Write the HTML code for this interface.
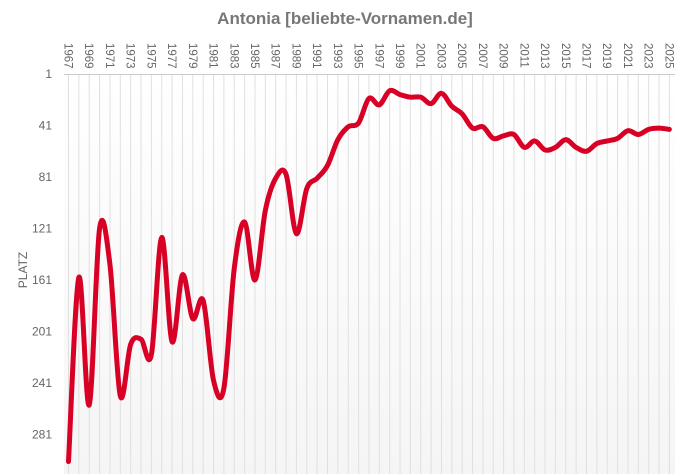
<!DOCTYPE html>
<html><head><meta charset="utf-8"><style>
html,body{margin:0;padding:0;background:#fff;}
svg{display:block;font-family:"Liberation Sans",sans-serif;}
</style></head><body>
<svg id="c" width="689" height="474" xmlns="http://www.w3.org/2000/svg">
<defs><linearGradient id="g" x1="0" y1="0" x2="0" y2="1"><stop offset="0" stop-color="#fff"/><stop offset="1" stop-color="#f5f5f5"/></linearGradient></defs>
<rect x="64" y="75" width="611" height="399" fill="url(#g)"/>
<text x="345" y="24" text-anchor="middle" font-size="17" font-weight="bold" fill="#777">Antonia [beliebte-Vornamen.de]</text>
<text transform="translate(27,270) rotate(-90)" text-anchor="middle" font-size="12" fill="#666">PLATZ</text>
<g id="grid"></g>
<line x1="64" y1="74.5" x2="675" y2="74.5" stroke="#ccc"/>
<g id="lab"></g>
<path id="p" fill="none" stroke="#d90026" stroke-width="5" stroke-linejoin="round" stroke-linecap="round"/>
</svg>
<script>
var d=[302,159,258,121,149,251,211,207,219,128,209,157,191,177,239,245,152,116,161,107,82,79,125,90,82,72,52,42,39,20,25,14,17,19,19,24,16,26,32,43,42,51,49,48,58,53,60,58,52,58,61,55,53,51,45,48,44,43,44];
var ns="http://www.w3.org/2000/svg";
function X(i){return 68.5+i*10.36;}
function Y(r){return 74+(r-1)*1.2875;}
var g=document.getElementById('grid'),l=document.getElementById('lab');
function el(t,a,p,txt){var e=document.createElementNS(ns,t);for(var k in a)e.setAttribute(k,a[k]);if(txt)e.textContent=txt;p.appendChild(e);}
for(var i=0;i<59;i++){el('line',{x1:X(i),x2:X(i),y1:75,y2:474,stroke:'#e0e0e0','stroke-width':1},g);
 if(i%2==0)el('text',{transform:'translate('+(X(i)-4)+',43) rotate(90)','font-size':11.5,fill:'#666'},l,String(1967+i));}
[1,41,81,121,161,201,241,281].forEach(function(r){el('text',{x:52,y:Y(r)+4,'text-anchor':'end','font-size':12,fill:'#666'},l,String(r));});
var pts=d.map(function(r,i){return [X(i),Y(r)];});
var s='M'+pts[0][0]+','+pts[0][1];
for(var i=0;i<pts.length-1;i++){var p0=pts[i-1]||pts[i],p1=pts[i],p2=pts[i+1],p3=pts[i+2]||p2;
s+=' C'+(p1[0]+(p2[0]-p0[0])/6)+','+(p1[1]+(p2[1]-p0[1])/6)+' '+(p2[0]-(p3[0]-p1[0])/6)+','+(p2[1]-(p3[1]-p1[1])/6)+' '+p2[0]+','+p2[1];}
document.getElementById('p').setAttribute('d',s);
</script>
</body></html>
